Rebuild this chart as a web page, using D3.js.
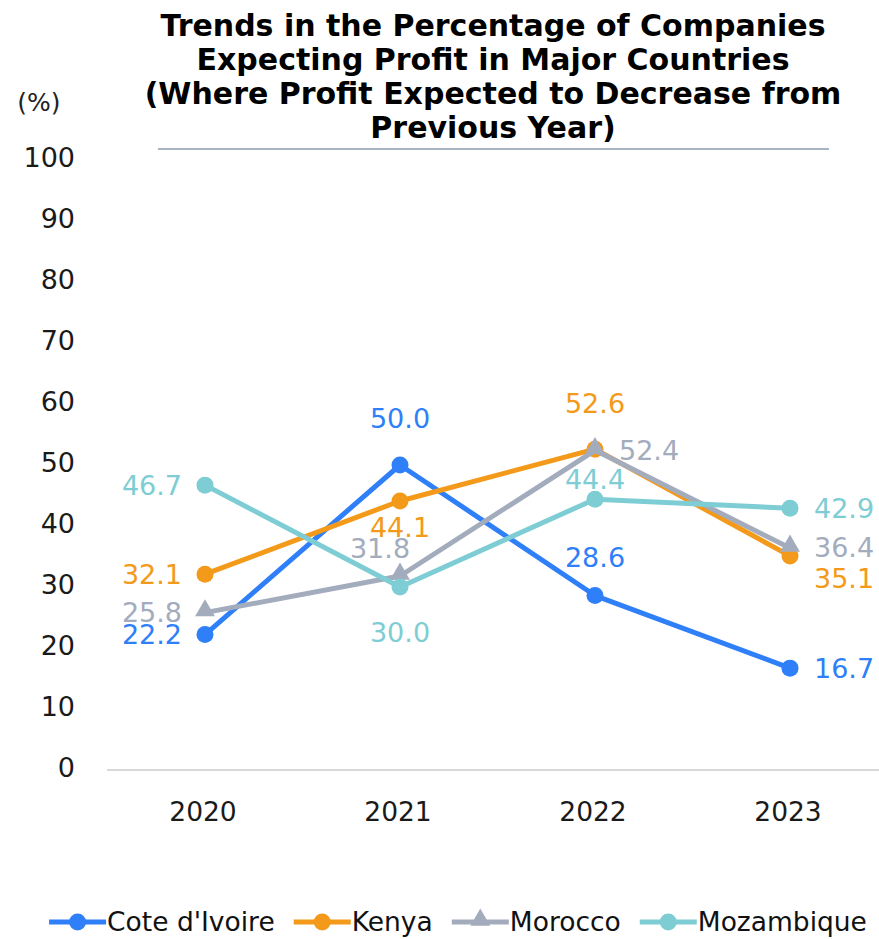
<!DOCTYPE html>
<html>
<head>
<meta charset="utf-8">
<script src="https://cdn.jsdelivr.net/npm/d3@7"></script>
<style>
  body { margin: 0; background: #fff; }
  svg { font-family: "DejaVu Sans", Verdana, sans-serif; }
</style>
</head>
<body>
<div id="chart"></div>
<script>
const years = ['2020', '2021', '2022', '2023']
const seriesNames = ["Cote d'Ivoire", 'Kenya', 'Morocco', 'Mozambique']
const coteValues = [22.2, 50.0, 28.6, 16.7]
const kenyaValues = [32.1, 44.1, 52.6, 35.1]
const moroccoValues = [25.8, 31.8, 52.4, 36.4]
const mozambiqueValues = [46.7, 30.0, 44.4, 42.9]
const yTicks = [0, 10, 20, 30, 40, 50, 60, 70, 80, 90, 100]
const titleLines = [
    'Trends in the Percentage of Companies',
    'Expecting Profit in Major Countries',
    '(Where Profit Expected to Decrease from',
    'Previous Year)'
]
// where each data label sits relative to its point
const coteLabelPos = ['left', 'above', 'aboveNear', 'right']
const kenyaLabelPos = ['left', 'belowNear', 'above', 'belowRight']
const moroccoLabelPos = ['left', 'aboveLeft', 'right', 'right']
const mozambiqueLabelPos = ['left', 'below', 'aboveClose', 'right']

const width = 879
const height = 939
const colors = ['#2f7ff9', '#f39a1b', '#a3acbd', '#7ecdd4']
const shapes = ['circle', 'circle', 'triangle', 'circle']

const series = seriesNames.map((name, i) => ({
    name,
    values: [coteValues, kenyaValues, moroccoValues, mozambiqueValues][i],
    labelPos: [coteLabelPos, kenyaLabelPos, moroccoLabelPos, mozambiqueLabelPos][i],
    color: colors[i],
    shape: shapes[i]
}))

const svg = d3
    .select('#chart')
    .append('svg')
    .attr('width', width)
    .attr('height', height)

const x = d3.scaleBand().domain(years).range([107.5, 887.5])
const y = d3.scaleLinear().domain([0, 100]).range([770, 160])
const cx = d => x(d) + x.bandwidth() / 2

// title
const title = svg
    .append('text')
    .attr('text-anchor', 'middle')
    .attr('font-weight', 'bold')
    .attr('font-size', 30)
    .attr('fill', '#000')
titleLines.forEach((line, i) => {
    title
        .append('tspan')
        .attr('x', 493)
        .attr('y', 36 + i * 34)
        .text(line)
})
svg.append('line')
    .attr('x1', 158)
    .attr('x2', 829)
    .attr('y1', 149)
    .attr('y2', 149)
    .attr('stroke', '#a8b4c4')
    .attr('stroke-width', 2)

svg.append('text')
    .attr('x', 39)
    .attr('y', 102)
    .attr('dy', '0.35em')
    .attr('text-anchor', 'middle')
    .attr('font-size', 25)
    .attr('fill', '#222')
    .text('(%)')

// y axis labels (no axis line)
svg.append('g')
    .selectAll('text')
    .data(yTicks)
    .enter()
    .append('text')
    .attr('x', 75)
    .attr('y', d => y(d) - 2)
    .attr('dy', '0.35em')
    .attr('text-anchor', 'end')
    .attr('font-size', 27)
    .attr('fill', '#1a1a1a')
    .text(d => d)

// baseline
svg.append('line')
    .attr('x1', 107)
    .attr('x2', width)
    .attr('y1', y(0))
    .attr('y2', y(0))
    .attr('stroke', '#d9d9d9')
    .attr('stroke-width', 2)

svg.append('g')
    .selectAll('text')
    .data(years)
    .enter()
    .append('text')
    .attr('x', d => cx(d) - 2)
    .attr('y', 812)
    .attr('dy', '0.35em')
    .attr('text-anchor', 'middle')
    .attr('font-size', 26.5)
    .attr('fill', '#1a1a1a')
    .text(d => d)

const line = d3
    .line()
    .x((d, i) => cx(years[i]))
    .y(d => y(d))

const triangle = d3.symbol().type(d3.symbolTriangle).size(170)

function drawMarker(g, s, px, py) {
    if (s.shape === 'triangle') {
        g.append('path')
            .attr('d', triangle())
            .attr('transform', `translate(${px},${py - 2})`)
            .attr('fill', s.color)
    } else {
        g.append('circle')
            .attr('cx', px)
            .attr('cy', py)
            .attr('r', 8.5)
            .attr('fill', s.color)
    }
}

series.forEach(s => {
    const g = svg.append('g')
    g.append('path')
        .datum(s.values)
        .attr('d', line)
        .attr('fill', 'none')
        .attr('stroke', s.color)
        .attr('stroke-width', 5)
        .attr('stroke-linejoin', 'round')
    s.values.forEach((v, i) => drawMarker(g, s, cx(years[i]), y(v)))
})

const labelOffsets = {
    left: { dx: -23, dy: 0, anchor: 'end' },
    right: { dx: 24, dy: 0, anchor: 'start' },
    above: { dx: 0, dy: -46, anchor: 'middle' },
    aboveNear: { dx: 0, dy: -38, anchor: 'middle' },
    aboveClose: { dx: 0, dy: -20, anchor: 'middle' },
    below: { dx: 0, dy: 46, anchor: 'middle' },
    belowNear: { dx: 0, dy: 27, anchor: 'middle' },
    aboveLeft: { dx: -20, dy: -27, anchor: 'middle' },
    belowRight: { dx: 24, dy: 23, anchor: 'start' }
}

series.forEach(s => {
    svg.append('g')
        .selectAll('text')
        .data(s.values)
        .enter()
        .append('text')
        .attr('x', (d, i) => cx(years[i]) + labelOffsets[s.labelPos[i]].dx)
        .attr('y', (d, i) => y(d) + labelOffsets[s.labelPos[i]].dy)
        .attr('dy', '0.35em')
        .attr('text-anchor', (d, i) => labelOffsets[s.labelPos[i]].anchor)
        .attr('font-size', 27)
        .attr('fill', s.color)
        .text(d => d.toFixed(1))
})

// legend
const legend = svg.append('g')
let lx = 0
series.forEach(s => {
    const item = legend.append('g')
    item.append('line')
        .attr('x1', 0)
        .attr('x2', 57)
        .attr('y1', 0)
        .attr('y2', 0)
        .attr('stroke', s.color)
        .attr('stroke-width', 5)
    drawMarker(item, s, 28.5, 0)
    const t = item
        .append('text')
        .attr('x', 58)
        .attr('dy', '0.35em')
        .attr('font-size', 26.5)
        .attr('fill', '#111')
        .text(s.name)
    const w = 58 + t.node().getComputedTextLength()
    item.attr('transform', `translate(${lx},0)`)
    lx += w + 19
})
const legendWidth = lx - 19
legend.attr('transform', `translate(${458 - legendWidth / 2},922)`)
</script>
</body>
</html>
